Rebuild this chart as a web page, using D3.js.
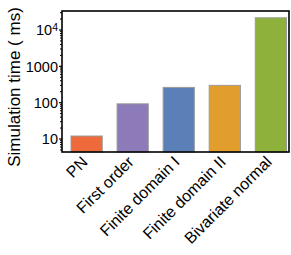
<!DOCTYPE html>
<html><head><meta charset="utf-8">
<script src="https://cdn.jsdelivr.net/npm/d3@7"></script>
<style>body{margin:0;background:#fff}svg{display:block}text{font-family:"Liberation Sans",Arial,sans-serif;fill:#000}</style>
</head><body>
<script>
const categories = ["PN","First order","Finite domain I","Finite domain II","Bivariate normal"];
const values = [11.7, 90, 255, 290, 21000];
const colors = ["#EE6A3A","#8C7BB8","#5B80B8","#E29E2C","#8DB13A"];
const tickValues = [10, 100, 1000, 10000];
const tickLabels = ["10","100","1000","10^4"];

(function(){
const W=291,H=255;
const svg=d3.select("body").append("svg").attr("width",W).attr("height",H);
const mL=62,mR=289,mT=11,mB=152;

const y=d3.scaleLog().domain([4.25,32300]).range([mB,mT]);
const x=d3.scaleBand().domain(categories).range([71,286.5]).paddingInner(0.322).paddingOuter(0);

const minor=[];
for(let e=0;e<=4;e++){for(let k=2;k<=9;k++){const v=k*Math.pow(10,e); if(v>4.25&&v<32300) minor.push(v);}}
svg.append("g").attr("transform",`translate(${mL},0)`)
  .call(d3.axisLeft(y).tickValues(minor).tickSize(2).tickFormat(""))
  .call(g=>g.select(".domain").remove())
  .call(g=>g.selectAll("line").attr("stroke","#000").attr("stroke-width",1));

const ax=svg.append("g").attr("transform",`translate(${mL},0)`)
  .call(d3.axisLeft(y).tickValues(tickValues).tickSize(3).tickPadding(2).tickFormat(""));
ax.select(".domain").remove();
ax.selectAll("line").attr("stroke","#000").attr("stroke-width",1.2);
ax.selectAll(".tick").each(function(d,i){
  const t=d3.select(this).append("text").attr("x",-4).attr("dy","0.36em").attr("text-anchor","end").style("font-size","14.5px");
  const lab=tickLabels[i];
  if(lab.includes("^")){const [b,e]=lab.split("^");t.append("tspan").text(b);t.append("tspan").text(e).attr("dy","-0.45em").style("font-size","10.5px");}
  else t.text(lab);
});

svg.append("g").selectAll("rect").data(categories).join("rect")
  .attr("x",d=>x(d)).attr("width",x.bandwidth())
  .attr("y",(d,i)=>y(values[i])).attr("height",(d,i)=>mB-y(values[i]))
  .attr("fill",(d,i)=>colors[i]).attr("stroke","#9a9a9a").attr("stroke-width",1);

svg.append("rect").attr("x",mL).attr("y",mT).attr("width",mR-mL).attr("height",mB-mT)
  .attr("fill","none").attr("stroke","#000").attr("stroke-width",1.6);

svg.append("g").selectAll("text").data(categories).join("text")
  .attr("transform",d=>`translate(${x(d)+x.bandwidth()/2-2},${mB+7}) rotate(-45)`)
  .attr("text-anchor","end").attr("dy","0.35em").style("font-size","16px").text(d=>d);

svg.append("text").attr("transform",`translate(20,87) rotate(-90)`).attr("text-anchor","middle")
  .style("font-size","17px").text("Simulation time ( ms)");
})();
</script>
</body></html>
